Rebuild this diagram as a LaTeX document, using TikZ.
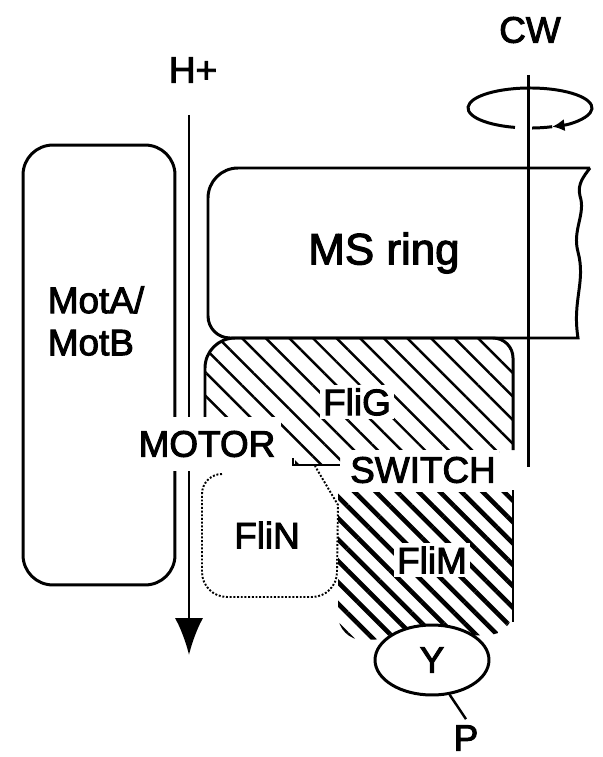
\documentclass[tikz,border=0pt]{standalone}
\usepackage{fontspec}
\setmainfont{Liberation Sans}
\newfontfamily\lblfont{Liberation Sans}[FakeBold=2.6]
\usetikzlibrary{arrows.meta,patterns.meta,shapes.geometric}
\tikzset{
  lbl/.style={font=\lblfont\fontsize{21}{24}\selectfont},
  thickln/.style={line width=1.7pt},
  ghatch/.style={pattern={Lines[angle=-45,distance=9.5pt,line width=1.4pt]}},
  mhatch/.style={pattern={Lines[angle=-45,distance=8.6pt,line width=2.6pt]}},
  blank/.style={fill=white,inner sep=2pt},
}
\begin{document}
\begin{tikzpicture}[x=0.02cm,y=-0.02cm]
  \useasboundingbox (0,0) rectangle (602,757);
  % stator
  \node[thickln,draw,rounded corners=17pt,minimum width=3.04cm,minimum height=8.8cm] (mot) at (99,365) {};
  \node[lbl,align=left] (motlbl) at (96,321) {MotA/\\MotB};
  % proton flow
  \coordinate (hstart) at (189,115);
  \coordinate (hend) at (189,655);
  \draw[thickln,-{Latex[length=21pt,width=16pt]}] (hstart) -- (hend);
  \node[lbl] (hplus) at (193,70) {H+};
  % MS ring with broken edge
  \draw[thickln] (590,168) -- (238,168) arc[start angle=270,end angle=180,radius=30]
    -- (208,316) arc[start angle=180,end angle=90,radius=22] -- (578,338)
    .. controls (572,300) and (586,282) .. (578,252)
    .. controls (572,230) and (586,214) .. (580,196)
    .. controls (577,184) and (584,176) .. (590,168);
  \node[lbl,font=\lblfont\fontsize{25}{28}\selectfont] (ms) at (384,253) {MS ring};
  % FliG
  \fill[ghatch] (205,440) -- (205,368) arc[start angle=180,end angle=270,radius=30]
    -- (493,338) arc[start angle=270,end angle=360,radius=20] -- (513,452)
    -- (340,452) -- (340,465) -- (295,465) -- (295,440) -- cycle;
  \draw[thickln] (205,425) -- (205,368) arc[start angle=180,end angle=270,radius=30]
    -- (493,338) arc[start angle=270,end angle=360,radius=20] -- (513,450);
  \draw[line width=1.2pt] (293,458) -- (293,465) -- (340,465);
  % FliM
  \fill[mhatch] (338,492) -- (513,492) -- (513,610) arc[start angle=0,end angle=90,radius=25]
    -- (363,640) arc[start angle=90,end angle=180,radius=25] -- cycle;
  \draw[line width=1pt] (513,490) -- (513,622);
  % FliN
  \draw[densely dotted,line width=1.1pt] (222,474) arc[start angle=270,end angle=180,radius=20]
    -- (202,572) arc[start angle=180,end angle=90,radius=25] -- (312,597)
    arc[start angle=90,end angle=0,radius=25] -- (338,505) -- (315,466);
  % rotation axis
  \draw[thickln] (528,75) -- (528,467);
  \draw[thickln,-{Latex[length=7pt,width=7pt]}] (515,127.4) arc[start angle=104,end angle=429,x radius=62,y radius=20];
  \draw[thickln] (552.2,126.7) arc[start angle=69,end angle=88,x radius=62,y radius=20];
  \node[lbl] (cw) at (530,30) {CW};
  % labels
  \node[lbl,blank,inner xsep=3pt,minimum height=31pt] (motor) at (207,444) {MOTOR};
  \node[lbl,blank] (flig) at (357,402) {FliG};
  \node[lbl,blank,inner ysep=4pt] (switch) at (423,470) {SWITCH};
  \node[lbl] (flin) at (267,535) {FliN};
  \node[lbl,blank] (flim) at (432,560) {FliM};
  \node[lbl,thickln,draw,fill=white,ellipse,inner sep=0pt,minimum width=2.28cm,minimum height=1.4cm] (y) at (432,660) {Y};
  \node[lbl] (p) at (466,738) {P};
  \draw[line width=1.4pt] (y.-63) -- (p.north);
\end{tikzpicture}
\end{document}
